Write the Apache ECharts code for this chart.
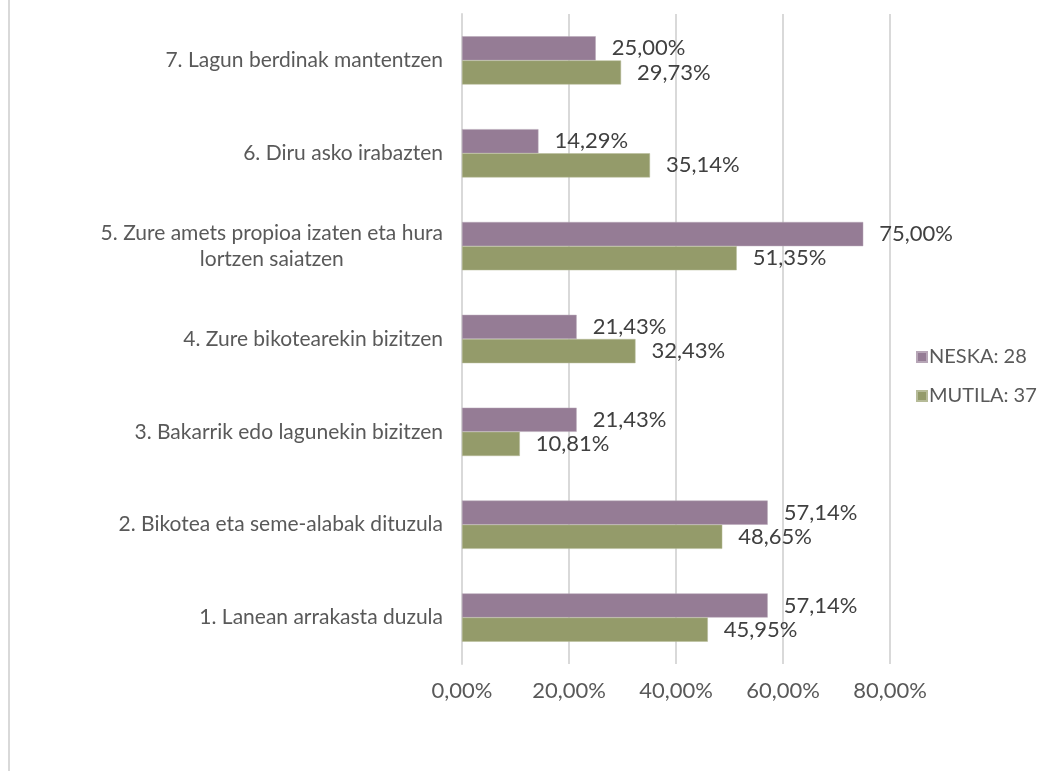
<!DOCTYPE html>
<html>
<head>
<meta charset="utf-8">
<script src="https://cdn.jsdelivr.net/npm/echarts@6/dist/echarts.min.js"></script>
<style>
html,body{margin:0;padding:0;background:#fff;}
#chart{width:1054px;height:771px;}
</style>
</head>
<body>
<div id="chart"></div>
<script>
const categories = [
  '1. Lanean arrakasta duzula',
  '2. Bikotea eta seme-alabak dituzula',
  '3. Bakarrik edo lagunekin bizitzen',
  '4. Zure bikotearekin bizitzen',
  '5. Zure amets propioa izaten eta hura\nlortzen saiatzen',
  '6. Diru asko irabazten',
  '7. Lagun berdinak mantentzen'
];
const seriesNames = ['NESKA: 28', 'MUTILA: 37'];
const neska = [57.14, 57.14, 21.43, 21.43, 75.00, 14.29, 25.00];
const mutila = [45.95, 48.65, 10.81, 32.43, 51.35, 35.14, 29.73];
const xTicks = [0, 20, 40, 60, 80];

const FONT = 'Lato';
const fmt = v => v.toFixed(2).replace('.', ',') + '%';

const chart = echarts.init(document.getElementById('chart'), null, {renderer: 'canvas'});
chart.setOption({
  animation: false,
  backgroundColor: '#fff',
  textStyle: {fontFamily: FONT},
  graphic: [{
    type: 'line',
    shape: {x1: 9, y1: 0, x2: 9, y2: 771},
    style: {stroke: '#d9d9d9', lineWidth: 2}
  }],
  legend: {
    data: seriesNames,
    orient: 'vertical',
    left: 911,
    top: 342,
    icon: 'rect',
    itemWidth: 10,
    itemHeight: 10,
    itemGap: 19,
    textStyle: {fontFamily: FONT, fontSize: 20, color: '#595959', padding: [0, 0, 0, -3]}
  },
  grid: {left: 462, top: 14, width: 428, height: 650, containLabel: false},
  xAxis: {
    type: 'value',
    min: xTicks[0],
    max: xTicks[xTicks.length - 1],
    interval: 20,
    axisLine: {show: false},
    axisTick: {show: false},
    splitLine: {lineStyle: {color: '#d9d9d9', width: 2}},
    axisLabel: {
      margin: 16,
      fontFamily: FONT,
      fontSize: 22,
      color: '#595959',
      formatter: v => fmt(v)
    }
  },
  yAxis: {
    type: 'category',
    data: categories,
    axisLine: {show: true, lineStyle: {color: '#d9d9d9', width: 2}},
    axisTick: {show: false},
    axisLabel: {
      margin: 19,
      fontFamily: FONT,
      fontSize: 21,
      color: '#595959',
      formatter: v => '{c|' + v.split('\n').join('}\n{c|') + '}',
      rich: {c: {align: 'center', fontFamily: FONT, fontSize: 21, color: '#595959', lineHeight: 26}}
    }
  },
  series: [
    {
      name: seriesNames[0],
      type: 'bar',
      data: neska,
      barGap: '0%',
      barCategoryGap: '48%',
      itemStyle: {color: '#957C95', borderColor: '#b7a6b7', borderWidth: 0.5},
      label: {
        show: true, position: 'right', distance: 16,
        fontFamily: FONT, fontSize: 22, color: '#404040',
        formatter: p => fmt(p.value)
      }
    },
    {
      name: seriesNames[1],
      type: 'bar',
      data: mutila,
      barGap: '0%',
      barCategoryGap: '48%',
      itemStyle: {color: '#949B6A', borderColor: '#b6bb98', borderWidth: 0.5},
      label: {
        show: true, position: 'right', distance: 16,
        fontFamily: FONT, fontSize: 22, color: '#404040',
        formatter: p => fmt(p.value)
      }
    }
  ]
});
</script>
</body>
</html>
